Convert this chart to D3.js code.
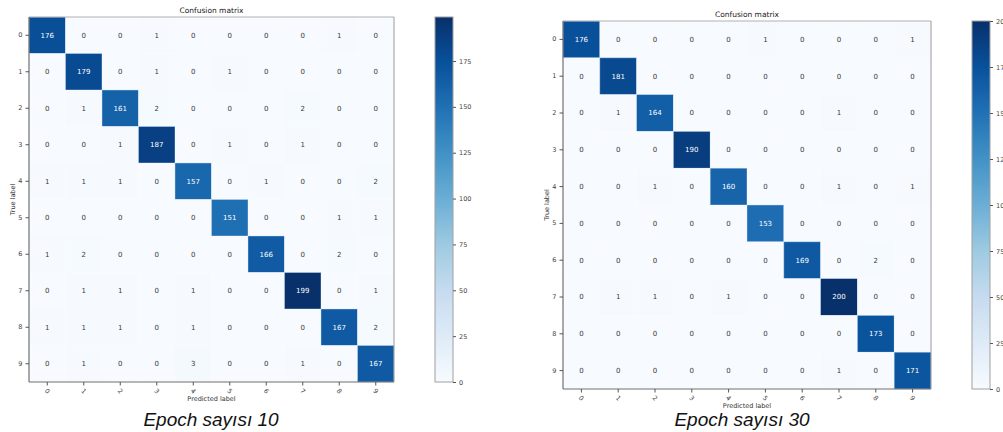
<!DOCTYPE html>
<html>
<head>
<meta charset="utf-8">
<script src="https://cdn.jsdelivr.net/npm/d3@7"></script>
<style>
  html, body { margin: 0; padding: 0; background: #fff; overflow: hidden; }
  svg { display: block; }
</style>
</head>
<body>
<svg id="chart" width="1003" height="432"></svg>
<script>
// ---------- DATA ----------
const classLabels = ["0","1","2","3","4","5","6","7","8","9"];

const epoch10Matrix = [
  [176,0,0,1,0,0,0,0,1,0],
  [0,179,0,1,0,1,0,0,0,0],
  [0,1,161,2,0,0,0,2,0,0],
  [0,0,1,187,0,1,0,1,0,0],
  [1,1,1,0,157,0,1,0,0,2],
  [0,0,0,0,0,151,0,0,1,1],
  [1,2,0,0,0,0,166,0,2,0],
  [0,1,1,0,1,0,0,199,0,1],
  [1,1,1,0,1,0,0,0,167,2],
  [0,1,0,0,3,0,0,1,0,167]
];

const epoch30Matrix = [
  [176,0,0,0,0,1,0,0,0,1],
  [0,181,0,0,0,0,0,0,0,0],
  [0,1,164,0,0,0,0,1,0,0],
  [0,0,0,190,0,0,0,0,0,0],
  [0,0,1,0,160,0,0,1,0,1],
  [0,0,0,0,0,153,0,0,0,0],
  [0,0,0,0,0,0,169,0,2,0],
  [0,1,1,0,1,0,0,200,0,0],
  [0,0,0,0,0,0,0,0,173,0],
  [0,0,0,0,0,0,0,1,0,171]
];

const epoch10Ticks = [0,25,50,75,100,125,150,175];
const epoch30Ticks = [0,25,50,75,100,125,150,175,200];

const titles = ["Confusion matrix", "Confusion matrix"];
const captions = ["Epoch sayısı 10", "Epoch sayısı 30"];
const xAxisTitle = "Predicted label";
const yAxisTitle = "True label";

// matplotlib "Blues" (ColorBrewer 9-class, linearly segmented)
const bluesStops = ["#f7fbff","#deebf7","#c6dbef","#9ecae1","#6baed6","#4292c6","#2171b5","#08519c","#08306b"];

// ---------- DRAWING ----------
const svg = d3.select("#chart");
const FONT = "DejaVu Sans, Verdana, sans-serif";

function bluesScale(vmax) {
  return d3.scaleLinear()
    .domain(bluesStops.map((_, i) => vmax * i / (bluesStops.length - 1)))
    .range(bluesStops)
    .interpolate(d3.interpolateRgb)
    .clamp(true);
}

function drawPanel(opt, idx) {
  const { matrix, ticks, x0, y0, size, cbX, cbW, title, caption, captionX } = opt;
  const vmax = d3.max(matrix.flat());
  const color = bluesScale(vmax);
  const g = svg.append("g");

  const x = d3.scaleBand().domain(classLabels).range([x0, x0 + size]);
  const y = d3.scaleBand().domain(classLabels).range([y0, y0 + size]);

  const cells = [];
  matrix.forEach((row, r) => row.forEach((v, c) => cells.push({ r, c, v })));

  g.selectAll("rect.cell").data(cells).enter().append("rect")
    .attr("class", "cell")
    .attr("x", d => x(classLabels[d.c]))
    .attr("y", d => y(classLabels[d.r]))
    .attr("width", x.bandwidth())
    .attr("height", y.bandwidth())
    .attr("fill", d => color(d.v))
    .attr("stroke", d => d.v > vmax / 2 ? "rgba(200,220,240,0.55)" : "none")
    .attr("stroke-width", 0.8);

  g.selectAll("text.val").data(cells).enter().append("text")
    .attr("class", "val")
    .attr("x", d => x(classLabels[d.c]) + x.bandwidth() / 2)
    .attr("y", d => y(classLabels[d.r]) + y.bandwidth() / 2)
    .attr("dy", "0.35em")
    .attr("text-anchor", "middle")
    .attr("font-family", FONT)
    .attr("font-size", 7)
    .attr("fill", d => d.v > vmax / 2 ? "#ffffff" : "#3a3a3a")
    .text(d => d.v);

  // frame
  g.append("line").attr("x1", x0).attr("x2", x0 + size).attr("y1", y0).attr("y2", y0)
    .attr("stroke", "#b0b0b0").attr("stroke-width", 1);
  g.append("line").attr("x1", x0 + size).attr("x2", x0 + size).attr("y1", y0).attr("y2", y0 + size)
    .attr("stroke", "#9a9a9a").attr("stroke-width", 1);
  g.append("line").attr("x1", x0).attr("x2", x0).attr("y1", y0).attr("y2", y0 + size)
    .attr("stroke", "#707070").attr("stroke-width", 1.2);
  g.append("line").attr("x1", x0).attr("x2", x0 + size).attr("y1", y0 + size).attr("y2", y0 + size)
    .attr("stroke", "#707070").attr("stroke-width", 1.2);

  // y axis
  const yAxis = g.append("g").attr("transform", `translate(${x0},0)`)
    .call(d3.axisLeft(y).tickSize(3.5).tickPadding(3));
  yAxis.select(".domain").remove();
  yAxis.selectAll("line").attr("stroke", "#555");
  yAxis.selectAll("text").attr("font-family", FONT).attr("font-size", 6.5).attr("fill", "#444");

  // x axis
  const xAxis = g.append("g").attr("transform", `translate(0,${y0 + size})`)
    .call(d3.axisBottom(x).tickSize(3.5).tickFormat(""));
  xAxis.select(".domain").remove();
  xAxis.selectAll("line").attr("stroke", "#555");
  g.selectAll("text.xt").data(classLabels).enter().append("text")
    .attr("class", "xt")
    .attr("transform", d => `translate(${x(d) + x.bandwidth() / 2},${y0 + size + 9}) rotate(45)`)
    .attr("text-anchor", "middle")
    .attr("dy", "0.35em")
    .attr("font-family", FONT).attr("font-size", 6.5).attr("fill", "#444")
    .text(d => d);

  // titles
  g.append("text").attr("x", x0 + size / 2).attr("y", y0 - 4.5)
    .attr("text-anchor", "middle").attr("font-family", FONT).attr("font-size", 7.5).attr("fill", "#222")
    .text(title);
  g.append("text").attr("x", x0 + size / 2).attr("y", y0 + size + 18.5)
    .attr("text-anchor", "middle").attr("font-family", FONT).attr("font-size", 6.5).attr("fill", "#333")
    .text(xAxisTitle);
  g.append("text")
    .attr("transform", `translate(${x0 - 14},${y0 + size / 2}) rotate(-90)`)
    .attr("text-anchor", "middle").attr("font-family", FONT).attr("font-size", 6.5).attr("fill", "#333")
    .text(yAxisTitle);

  // caption
  g.append("text").attr("x", captionX).attr("y", 426)
    .attr("text-anchor", "middle")
    .attr("font-family", "Liberation Sans, Arial, sans-serif")
    .attr("font-style", "italic").attr("font-size", 19).attr("fill", "#111")
    .text(caption);

  // colorbar
  const gradId = "grad" + idx;
  const grad = svg.append("defs").append("linearGradient")
    .attr("id", gradId).attr("x1", 0).attr("y1", 1).attr("x2", 0).attr("y2", 0);
  bluesStops.forEach((c, i) => grad.append("stop")
    .attr("offset", i / (bluesStops.length - 1)).attr("stop-color", c));
  const cb = d3.scaleLinear().domain([0, vmax]).range([y0 + size, y0]);
  g.append("rect").attr("x", cbX).attr("y", y0).attr("width", cbW).attr("height", size)
    .attr("fill", `url(#${gradId})`).attr("stroke", "#a0a0a0").attr("stroke-width", 1);
  const cbAxis = g.append("g").attr("transform", `translate(${cbX + cbW},0)`)
    .call(d3.axisRight(cb).tickValues(ticks).tickSize(3).tickPadding(3));
  cbAxis.select(".domain").remove();
  cbAxis.selectAll("line").attr("stroke", "#555");
  cbAxis.selectAll("text").attr("font-family", FONT).attr("font-size", 6.5).attr("fill", "#444");
}

drawPanel({ matrix: epoch10Matrix, ticks: epoch10Ticks, x0: 29, y0: 17, size: 365,
  cbX: 435, cbW: 18, title: titles[0], caption: captions[0], captionX: 211 }, 0);
drawPanel({ matrix: epoch30Matrix, ticks: epoch30Ticks, x0: 563, y0: 21, size: 368,
  cbX: 972, cbW: 18, title: titles[1], caption: captions[1], captionX: 742 }, 1);
</script>
</body>
</html>
